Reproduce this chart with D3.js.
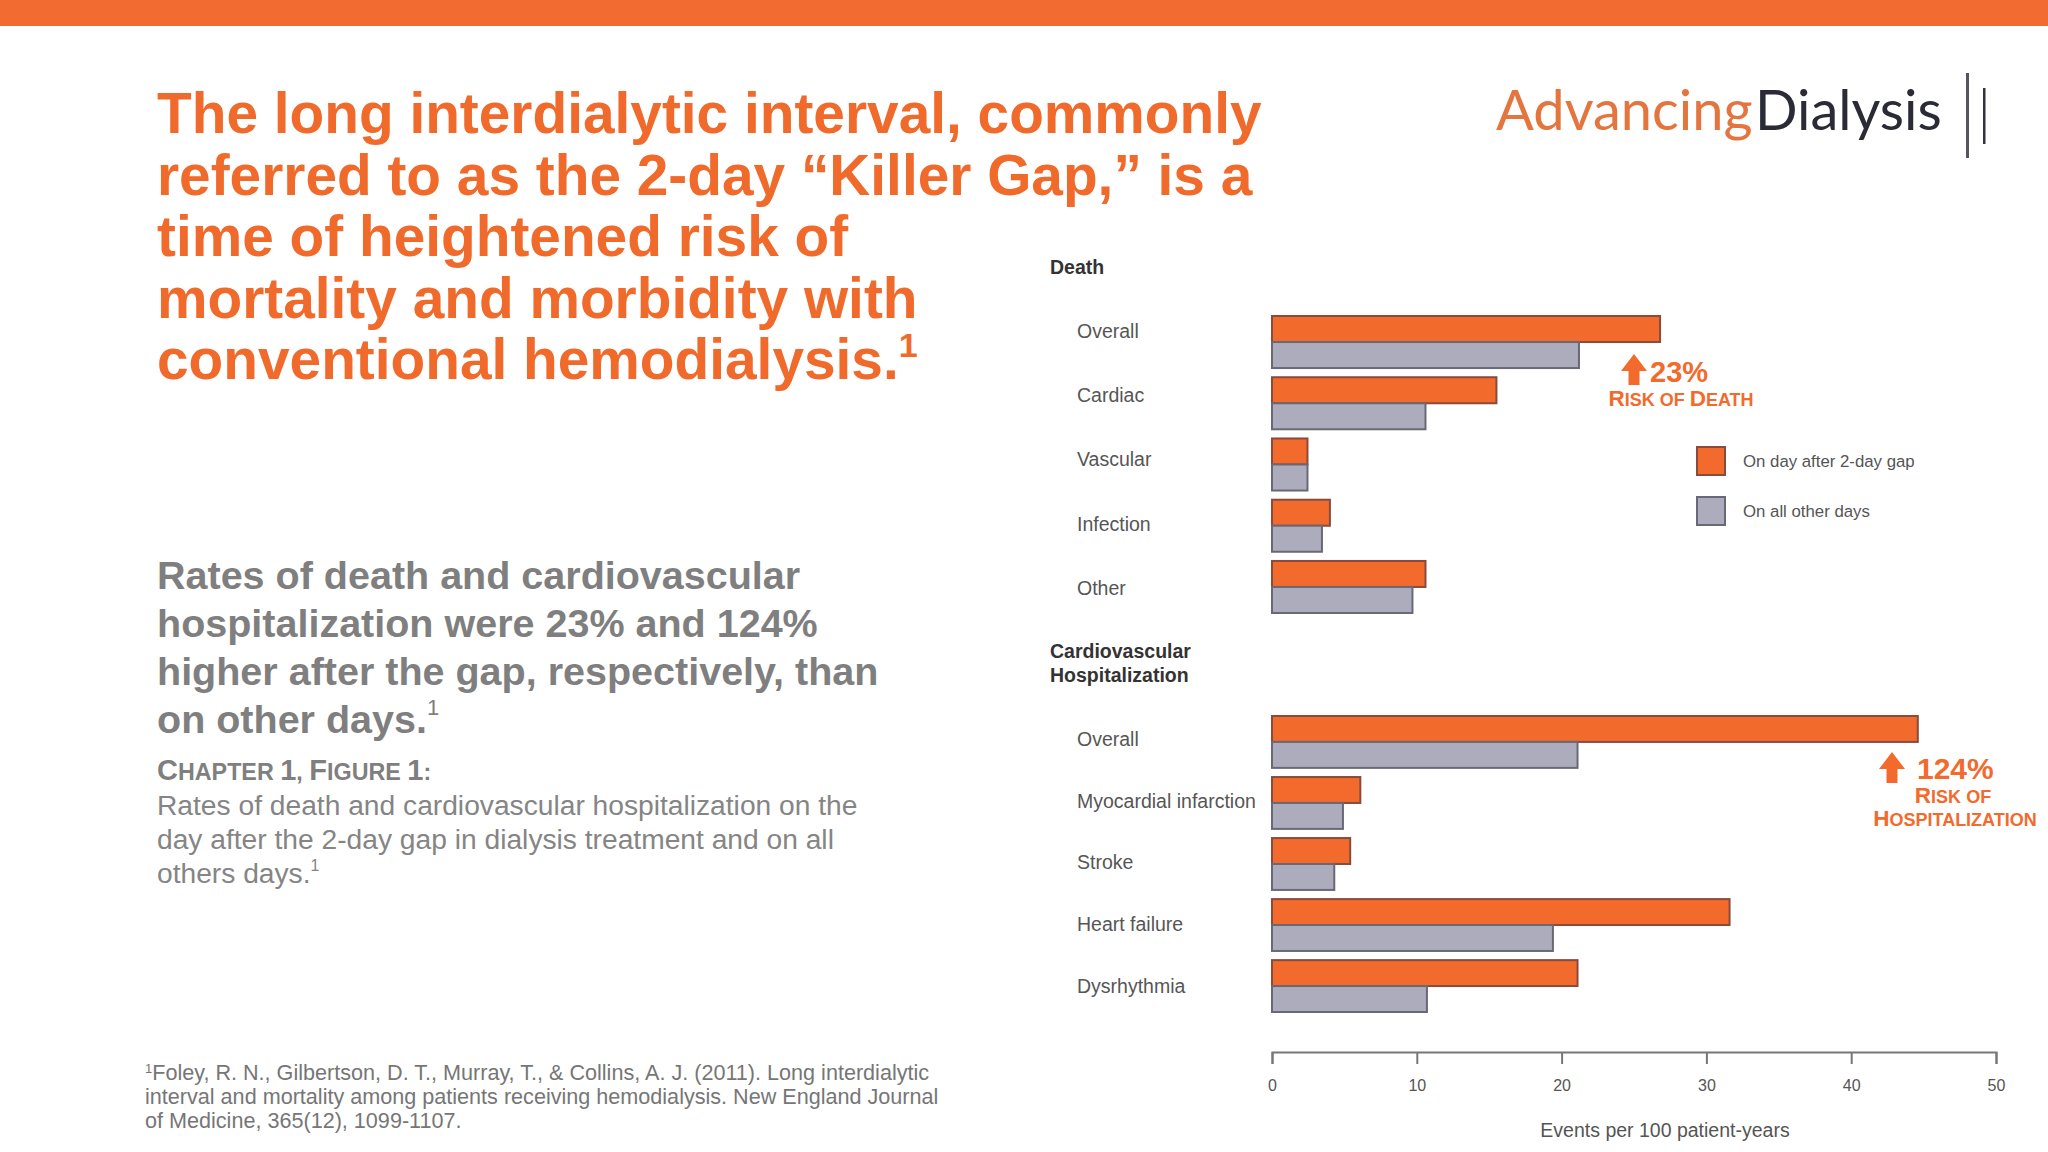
<!DOCTYPE html>
<html>
<head>
<meta charset="utf-8">
<script src="https://cdn.jsdelivr.net/npm/d3@7"></script>
<style>
  html, body { margin: 0; padding: 0; background: #fff; }
  svg { display: block; }
  text { font-family: "Liberation Sans", Arial, sans-serif; }
</style>
</head>
<body>
<div id="idChart"></div>
<script>
// chart values
var deathCats = ["Overall", "Cardiac", "Vascular", "Infection", "Other"];
var deathAfterGap = [26.8, 15.5, 2.45, 4.0, 10.6];
var deathOtherDays = [21.2, 10.6, 2.45, 3.45, 9.7];

var cvCats = ["Overall", "Myocardial infarction", "Stroke", "Heart failure", "Dysrhythmia"];
var cvAfterGap = [44.6, 6.1, 5.4, 31.6, 21.1];
var cvOtherDays = [21.1, 4.9, 4.3, 19.4, 10.7];

var seriesNames = ["On day after 2-day gap", "On all other days"];
var xTicks = [0, 10, 20, 30, 40, 50];

var ORANGE = "#f26a2c";
var ORANGE_STROKE = "#8a4b3c";
var GREY = "#acacbd";
var GREY_STROKE = "#696975";

var svg = d3.select("#idChart").append("svg")
    .attr("width", 2048).attr("height", 1152);

// top band
svg.append("rect").attr("x", 0).attr("y", 0).attr("width", 2048).attr("height", 26).attr("fill", "#f26b30");

// ---- left side texts ----
var titleLines = [
    "The long interdialytic interval, commonly",
    "referred to as the 2-day \u201cKiller Gap,\u201d is a",
    "time of heightened risk of",
    "mortality and morbidity with",
    "conventional hemodialysis."
];
var title = svg.append("text")
    .attr("x", 157).attr("y", 133)
    .attr("fill", "#f06a2b")
    .style("font-size", "56.8px").style("font-weight", "bold");
titleLines.forEach(function(s, i) {
    title.append("tspan").attr("x", 157).attr("y", 133 + i * 61.5).text(s);
});
title.append("tspan").style("font-size", "34px").attr("dy", -22).text("1");

var paraLines = [
    "Rates of death and cardiovascular",
    "hospitalization were 23% and 124%",
    "higher after the gap, respectively, than",
    "on other days."
];
var para = svg.append("text")
    .attr("fill", "#7f7f7f")
    .style("font-size", "39.5px").style("font-weight", "bold");
paraLines.forEach(function(s, i) {
    para.append("tspan").attr("x", 157).attr("y", 589 + i * 48).text(s);
});
para.append("tspan").style("font-size", "22px").style("font-weight", "normal").attr("dy", -18).text("1");

// small caps heading, done by hand
function smallCaps(g, x, y, str, big, small, color, anchor) {
    var t = g.append("text").attr("x", x).attr("y", y)
        .attr("fill", color).style("font-weight", "bold")
        .attr("text-anchor", anchor || "start");
    str.split(" ").forEach(function(w, i) {
        if (i > 0) t.append("tspan").style("font-size", small + "px").text(" ");
        var first = w.charAt(0);
        var isCap = first === first.toUpperCase();
        t.append("tspan").style("font-size", (isCap ? big : small) + "px").text(first.toUpperCase());
        if (w.length > 1) t.append("tspan").style("font-size", small + "px").text(w.substring(1).toUpperCase());
    });
    return t;
}
smallCaps(svg, 157, 780, "Chapter 1, Figure 1:", 29, 23.3, "#7f7f7f");

var capLines = [
    "Rates of death and cardiovascular hospitalization on the",
    "day after the 2-day gap in dialysis treatment and on all",
    "others days."
];
var cap = svg.append("text").attr("fill", "#858585").style("font-size", "28.2px");
capLines.forEach(function(s, i) {
    cap.append("tspan").attr("x", 157).attr("y", 815 + i * 34).text(s);
});
cap.append("tspan").style("font-size", "16px").attr("dy", -12).text("1");

var footLines = [
    "Foley, R. N., Gilbertson, D. T., Murray, T., & Collins, A. J. (2011). Long interdialytic",
    "interval and mortality among patients receiving hemodialysis. New England Journal",
    "of Medicine, 365(12), 1099-1107."
];
var foot = svg.append("text").attr("fill", "#767676").style("font-size", "21.6px");
foot.append("tspan").attr("x", 145).attr("y", 1073).style("font-size", "13px").text("1");
foot.append("tspan").attr("dy", 7).text(footLines[0]);
foot.append("tspan").attr("x", 145).attr("y", 1104).text(footLines[1]);
foot.append("tspan").attr("x", 145).attr("y", 1128).text(footLines[2]);

// ---- logo ----
var logo = svg.append("text").attr("x", 1496).attr("y", 130)
    .style("font-family", "Lato, sans-serif").style("font-size", "56px");
logo.append("tspan").attr("fill", "#e4753f").style("font-weight", "normal").text("Advancing");
logo.append("tspan").attr("fill", "#2b2b36").attr("dx", 3).text("Dialysis");
svg.append("rect").attr("x", 1966).attr("y", 73).attr("width", 3).attr("height", 85).attr("fill", "#55555f");
svg.append("rect").attr("x", 1983).attr("y", 88).attr("width", 2.5).attr("height", 56).attr("fill", "#33333d");

// ---- chart ----
var x = d3.scaleLinear().domain([0, 50]).range([1272, 1996]);

var groups = [
    { header: ["Death"], headerY: 274, cats: deathCats, after: deathAfterGap, other: deathOtherDays,
      range: [316, 613], labelRange: [331, 588] },
    { header: ["Cardiovascular", "Hospitalization"], headerY: 658, cats: cvCats, after: cvAfterGap, other: cvOtherDays,
      range: [716, 1012], labelRange: [739, 986] }
];

var inner = d3.scaleBand().domain([0, 1]).paddingInner(0).paddingOuter(0);

groups.forEach(function(grp) {
    var y = d3.scaleBand().domain(grp.cats).range(grp.range).paddingInner(0.15).paddingOuter(0);
    var yl = d3.scalePoint().domain(grp.cats).range(grp.labelRange);
    inner.range([0, y.bandwidth()]);

    var ht = svg.append("text").attr("fill", "#333").style("font-size", "19.5px").style("font-weight", "bold");
    grp.header.forEach(function(s, i) {
        ht.append("tspan").attr("x", 1050).attr("y", grp.headerY + i * 24).text(s);
    });

    svg.append("g").selectAll("text")
        .data(grp.cats)
        .enter().append("text")
        .attr("x", 1077)
        .attr("y", function(d) { return yl(d); })
        .attr("dy", "0.35em")
        .attr("fill", "#565656")
        .style("font-size", "19.5px")
        .text(function(d) { return d; });

    var rows = grp.cats.map(function(c, i) {
        return { cat: c, vals: [grp.after[i], grp.other[i]] };
    });

    var g = svg.append("g").selectAll("g")
        .data(rows)
        .enter().append("g")
        .attr("transform", function(d) { return "translate(0," + y(d.cat) + ")"; });

    g.selectAll("rect")
        .data(function(d) { return d.vals.map(function(v, k) { return { k: k, v: v }; }); })
        .enter().append("rect")
        .attr("x", x(0))
        .attr("y", function(d) { return inner(d.k); })
        .attr("width", function(d) { return x(d.v) - x(0); })
        .attr("height", inner.bandwidth())
        .attr("fill", function(d) { return d.k === 0 ? ORANGE : GREY; })
        .attr("stroke", function(d) { return d.k === 0 ? ORANGE_STROKE : GREY_STROKE; })
        .attr("stroke-width", 2);
});

// x axis
var xAxis = d3.axisBottom(x).tickValues(xTicks).tickSize(12).tickPadding(16);
var ax = svg.append("g").attr("transform", "translate(0,1052)").call(xAxis);
ax.select(".domain").attr("stroke", "#777").attr("stroke-width", 2);
ax.selectAll(".tick line").attr("stroke", "#777").attr("stroke-width", 2);
ax.selectAll(".tick text").attr("fill", "#555").style("font-size", "16px")
    .style("font-family", "'Liberation Sans', Arial, sans-serif");

svg.append("text").attr("x", 1665).attr("y", 1137)
    .attr("text-anchor", "middle").attr("fill", "#555").style("font-size", "19.5px")
    .text("Events per 100 patient-years");

// legend
var lg = svg.append("g").selectAll("g")
    .data(seriesNames)
    .enter().append("g")
    .attr("transform", function(d, i) { return "translate(1697," + (447 + i * 50) + ")"; });
lg.append("rect").attr("width", 28).attr("height", 28)
    .attr("fill", function(d, i) { return i === 0 ? ORANGE : GREY; })
    .attr("stroke", function(d, i) { return i === 0 ? ORANGE_STROKE : GREY_STROKE; })
    .attr("stroke-width", 2);
lg.append("text").attr("x", 46).attr("y", 14).attr("dy", "0.35em")
    .attr("fill", "#555").style("font-size", "16.8px").text(function(d) { return d; });

// annotations
function upArrow(cx, top, bottom) {
    var hw = 13, sw = 5.5, headH = (bottom - top) * 0.55;
    var p = d3.path();
    p.moveTo(cx, top);
    p.lineTo(cx + hw, top + headH);
    p.lineTo(cx + sw, top + headH);
    p.lineTo(cx + sw, bottom);
    p.lineTo(cx - sw, bottom);
    p.lineTo(cx - sw, top + headH);
    p.lineTo(cx - hw, top + headH);
    p.closePath();
    svg.append("path").attr("d", p.toString()).attr("fill", ORANGE);
}

upArrow(1634, 354, 385);
svg.append("text").attr("x", 1650).attr("y", 382).attr("fill", ORANGE)
    .style("font-size", "29px").style("font-weight", "bold").text("23%");
smallCaps(svg, 1681, 406, "Risk of Death", 22.5, 18, ORANGE, "middle");

upArrow(1892, 752, 783);
svg.append("text").attr("x", 1917).attr("y", 779).attr("fill", ORANGE)
    .style("font-size", "30px").style("font-weight", "bold").text("124%");
smallCaps(svg, 1953, 803, "Risk of", 22.5, 18, ORANGE, "middle");
smallCaps(svg, 1955, 826, "Hospitalization", 22.5, 18, ORANGE, "middle");
</script>
</body>
</html>
